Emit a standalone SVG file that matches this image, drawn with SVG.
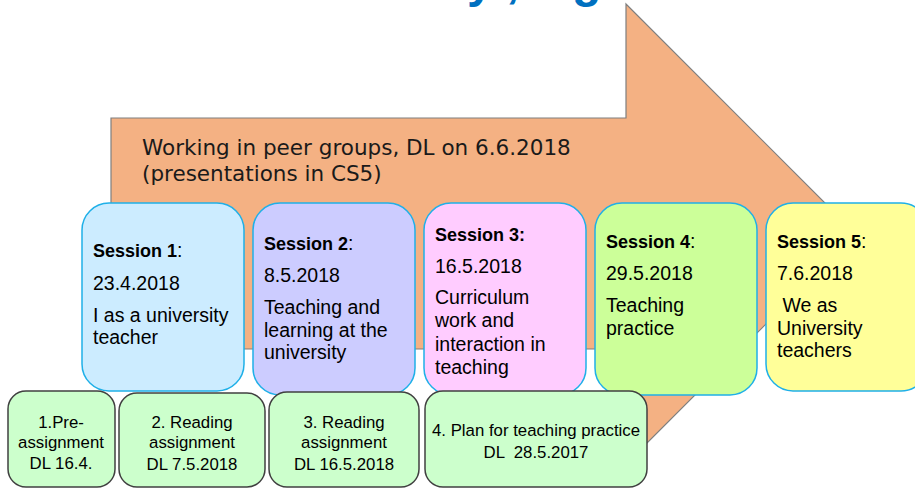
<svg xmlns="http://www.w3.org/2000/svg" width="915" height="488" viewBox="0 0 915 488">
<style>
.title{font-family:"Liberation Sans",Arial,sans-serif;font-weight:bold;font-size:48px;fill:#0070C0}
.arrow{fill:#F4B183;stroke:#7F7F7F;stroke-width:1.2}
.atext{font-family:"DejaVu Sans",Verdana,sans-serif;font-size:21.5px;fill:#1a1a1a}
.sess{stroke:#1FB0E8;stroke-width:1.5}
.st{font-family:"Liberation Sans",Arial,sans-serif;font-size:19.5px;fill:#000}
.b{font-weight:bold;font-size:18px}
.task{fill:#CCFFCC;stroke:#404040;stroke-width:1.5}
.tt{font-family:"Liberation Sans",Arial,sans-serif;font-size:16.8px;fill:#000;text-anchor:middle}
</style>
<text class="title" x="467 506 572" y="-3">y,g</text>
<g id="arrow">
<path class="arrow" d="M111,118 H626 V4 L856,234 L626,464 V349 H111 Z"/>
<text class="atext" x="142" y="155">Working in peer groups, DL on 6.6.2018</text>
<text class="atext" x="142" y="181">(presentations in CS5)</text>
</g>
<g id="session1">
<rect class="sess" x="82" y="203" width="162" height="188" rx="27" fill="#CCECFF"/>
<text class="st" x="93" y="257"><tspan class="b">Session 1</tspan>:</text>
<text class="st" x="93" y="290">23.4.2018</text>
<text class="st" x="93" y="322">I as a university</text>
<text class="st" x="93" y="344">teacher</text>
</g>
<g id="session2">
<rect class="sess" x="253" y="203" width="162" height="192" rx="27" fill="#CCCCFF"/>
<text class="st" x="264" y="250"><tspan class="b">Session 2</tspan>:</text>
<text class="st" x="264" y="282">8.5.2018</text>
<text class="st" x="264" y="314">Teaching and</text>
<text class="st" x="264" y="337">learning at the</text>
<text class="st" x="264" y="359">university</text>
</g>
<g id="session3">
<rect class="sess" x="424" y="203" width="162" height="192" rx="27" fill="#FFCCFF"/>
<text class="st" x="435" y="241"><tspan class="b">Session 3:</tspan></text>
<text class="st" x="435" y="273">16.5.2018</text>
<text class="st" x="435" y="304">Curriculum</text>
<text class="st" x="435" y="327">work and</text>
<text class="st" x="435" y="351">interaction in</text>
<text class="st" x="435" y="374">teaching</text>
</g>
<g id="session4">
<rect class="sess" x="595" y="203" width="162" height="192" rx="27" fill="#CCFF99"/>
<text class="st" x="606" y="248"><tspan class="b">Session 4</tspan>:</text>
<text class="st" x="606" y="280">29.5.2018</text>
<text class="st" x="606" y="312">Teaching</text>
<text class="st" x="606" y="335">practice</text>
</g>
<g id="session5">
<rect class="sess" x="766" y="203" width="162" height="188" rx="27" fill="#FFFF99"/>
<text class="st" x="777" y="248"><tspan class="b">Session 5</tspan>:</text>
<text class="st" x="777" y="280">7.6.2018</text>
<text class="st" x="777" y="312" xml:space="preserve"> We as</text>
<text class="st" x="777" y="335">University</text>
<text class="st" x="777" y="357">teachers</text>
</g>
<g id="task1">
<rect class="task" x="8" y="391" width="107" height="96" rx="18"/>
<text class="tt" x="61" y="428">1.Pre-</text>
<text class="tt" x="61" y="448">assignment</text>
<text class="tt" x="61" y="469">DL 16.4.</text>
</g>
<g id="task2">
<rect class="task" x="119" y="393" width="146" height="94" rx="18"/>
<text class="tt" x="192" y="428">2. Reading</text>
<text class="tt" x="192" y="448">assignment</text>
<text class="tt" x="192" y="470">DL 7.5.2018</text>
</g>
<g id="task3">
<rect class="task" x="269" y="392" width="150" height="95" rx="18"/>
<text class="tt" x="344" y="428">3. Reading</text>
<text class="tt" x="344" y="448">assignment</text>
<text class="tt" x="344" y="470">DL 16.5.2018</text>
</g>
<g id="task4">
<rect class="task" x="425" y="391" width="222" height="96" rx="18"/>
<text class="tt" x="536" y="436">4. Plan for teaching practice</text>
<text class="tt" x="536" y="458" xml:space="preserve">DL  28.5.2017</text>
</g>
<g id="connectors"></g>
</svg>
